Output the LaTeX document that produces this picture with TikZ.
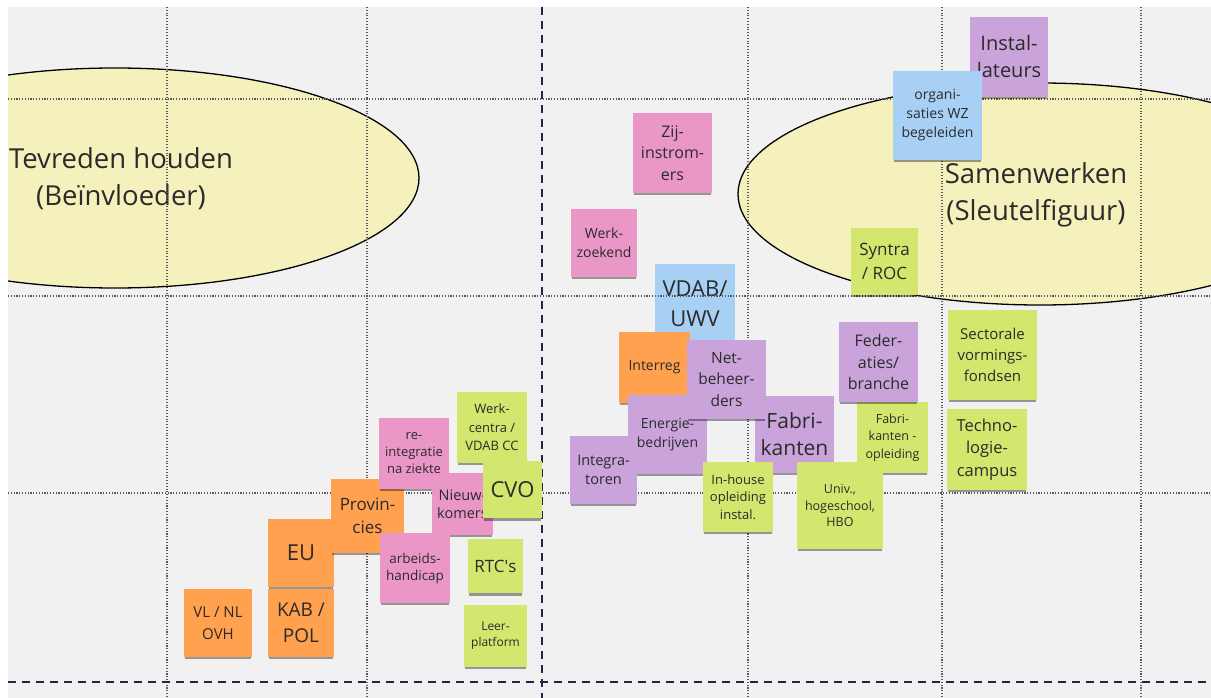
\documentclass[tikz,border=0pt]{standalone}
\usepackage{fontspec}
\setmainfont{Open Sans}
\usepackage{xcolor}
\usetikzlibrary{shadows}

\definecolor{board}{HTML}{F1F1F1}
\definecolor{ink}{HTML}{2B2B2B}
\definecolor{pale}{HTML}{F4F1BC}
\definecolor{gridgray}{HTML}{5A5A5A}
\definecolor{navy}{HTML}{1E2747}
\definecolor{npink}{HTML}{EA97C7}
\definecolor{npurple}{HTML}{C9A3D9}
\definecolor{nblue}{HTML}{A8D0F5}
\definecolor{norange}{HTML}{FFA14E}
\definecolor{ngreen}{HTML}{D3E66E}

\begin{document}
\begin{tikzpicture}[x=1pt,y=-1pt,
    note/.style={shape=rectangle, inner sep=0pt, align=center, text=ink,
      drop shadow={shadow xshift=0pt, shadow yshift=-3.5pt, shadow scale=0.97, opacity=0.38, fill=black}},
    pinknote/.style={note, fill=npink},
    purplenote/.style={note, fill=npurple},
    bluenote/.style={note, fill=nblue},
    orangenote/.style={note, fill=norange},
    greennote/.style={note, fill=ngreen},
    sz/.style 2 args={minimum width=#1pt, minimum height=#2pt},
    fs/.style 2 args={font=\fontsize{#1}{#2}\selectfont},
    gridline/.style={draw=gridgray, line width=1.1pt, dash pattern=on 1.1pt off 1.7pt},
    axisline/.style={draw=navy, line width=1.8pt, dash pattern=on 8pt off 6pt},
    bubble/.style={fill=pale, draw=black, line width=1.3pt}]
    \useasboundingbox (0,0) rectangle (1211,698);
    \fill[board] (8,7) rectangle (1211,698);

    \begin{scope}
      \clip (8,7) rectangle (1211,698);
      \draw[bubble] (115,178) ellipse [x radius=304pt, y radius=110pt];
      \draw[bubble] (1040,194) ellipse [x radius=302pt, y radius=111pt];
    \end{scope}
    \node[fs={27.5}{37}, text=ink, align=center] (tevreden) at (121,179) {Tevreden houden\\(Beïnvloeder)};
    \node[fs={27.5}{37}, text=ink, align=center] (samenwerken) at (1036,195) {Samenwerken\\(Sleutelfiguur)};

    \node[bluenote, sz={80}{80}, fs={22}{30}] (vdab) at (695,304) {VDAB/\\UWV};

    \foreach \gx in {167,367,748,942,1141}
      \draw[gridline] (\gx,7) -- (\gx,698);
    \foreach \gy in {99,296,493}
      \draw[gridline] (8,\gy) -- (1211,\gy);
    \draw[axisline] (542,7) -- (542,698);
    \draw[axisline] (8,682) -- (1211,682);

    \node[purplenote, sz={78}{80}, fs={20}{27}] (instal) at (1009,57) {Instal-\\lateurs};
    \node[bluenote, sz={89}{89}, fs={14}{19}] (orgwz) at (937.5,115.5) {organi-\\saties WZ\\begeleiden};
    \node[pinknote, sz={79}{80}, fs={16}{21.5}] (zij) at (672.5,153) {Zij-\\instrom-\\ers};
    \node[pinknote, sz={66}{68}, fs={14}{19}] (werkzoekend) at (604,243) {Werk-\\zoekend};
    \node[greennote, sz={67}{67}, fs={17}{24}] (syntra) at (884.5,261.5) {Syntra\\/ ROC};
    \node[greennote, sz={89}{90}, fs={15}{21}] (sectorale) at (992.5,355) {Sectorale\\vormings-\\fondsen};
    \node[greennote, sz={80}{81}, fs={16.5}{22.5}] (techno) at (987,449.5) {Techno-\\logie-\\campus};
    \node[greennote, sz={71}{71}, fs={12.5}{17.5}] (fabopl) at (892.5,437.5) {Fabri-\\kanten -\\opleiding};
    \node[purplenote, sz={79}{80}, fs={16}{21.5}] (federaties) at (878.5,362) {Feder-\\aties/\\branche};

    \node[orangenote, sz={71}{71}, fs={14}{18}] (interreg) at (654.5,367.5) {Interreg};
    \node[purplenote, sz={79}{79}, fs={14}{18.5}] (energie) at (667.5,434.5) {Energie-\\bedrijven};
    \node[purplenote, sz={79}{77}, fs={21}{27}] (fabrikanten) at (794.5,434.5) {Fabri-\\kanten};
    \node[purplenote, sz={79}{79}, fs={15.5}{21.5}] (net) at (726.5,379.5) {Net-\\beheer-\\ders};
    \node[purplenote, sz={67}{68}, fs={14.5}{19.5}] (integratoren) at (603.5,470) {Integra-\\toren};
    \node[greennote, sz={70}{70}, fs={13}{17.5}] (inhouse) at (738,497) {In-house\\opleiding\\instal.};
    \node[greennote, sz={86}{87}, fs={12.5}{16.5}] (univ) at (840,505.5) {Univ.,\\hogeschool,\\HBO};

    \node[orangenote, sz={66}{68}, fs={22}{26}] (eu) at (301,553) {EU};
    \node[orangenote, sz={73}{74}, fs={17}{23}] (provincies) at (367.5,516) {Provin-\\cies};
    \node[pinknote, sz={70}{71}, fs={13}{17}] (reint) at (414,453.5) {re-\\integratie\\na ziekte};
    \node[pinknote, sz={61}{62}, fs={14.5}{18.5}] (nieuwkomers) at (462.5,504) {Nieuw-\\komers};
    \node[greennote, sz={70}{71}, fs={13}{18.5}] (werkcentra) at (492,427.5) {Werk-\\centra /\\VDAB CC};
    \node[greennote, sz={59}{57}, fs={22}{26}] (cvo) at (512.5,489.5) {CVO};
    \node[pinknote, sz={70}{70}, fs={13.5}{17}] (arbeids) at (415,568) {arbeids-\\handicap};
    \node[greennote, sz={55}{54}, fs={17}{20}] (rtc) at (495.5,566) {RTC\textquotesingle s};
    \node[orangenote, sz={68}{68}, fs={15}{22}] (vlnl) at (218,623) {VL / NL\\OVH};
    \node[orangenote, sz={66}{68}, fs={19}{26.5}] (kab) at (301,623) {KAB /\\POL};
    \node[greennote, sz={63}{62}, fs={12}{16}] (leer) at (495.5,636) {Leer-\\platform};
\end{tikzpicture}
\end{document}
